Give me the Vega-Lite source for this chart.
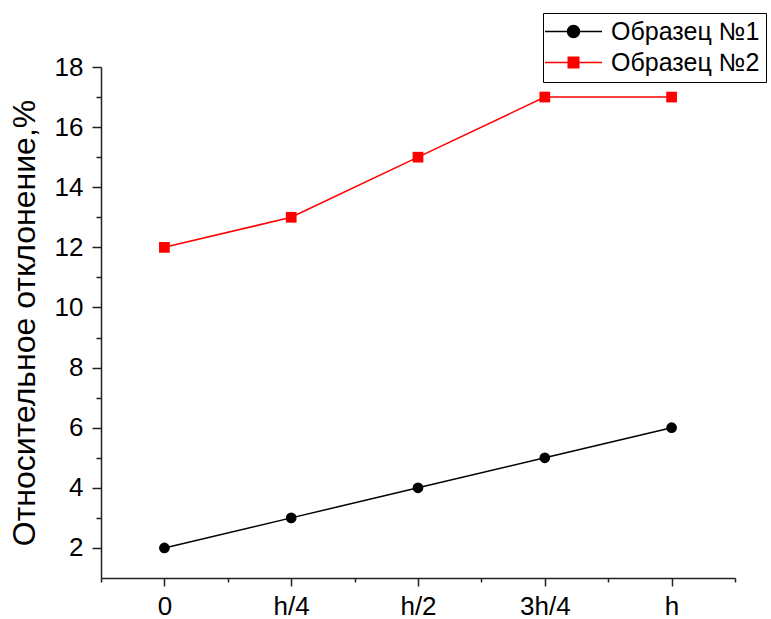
{
  "$schema": "https://vega.github.io/schema/vega-lite/v6.json",
  "width": 634,
  "height": 511,
  "autosize": "none",
  "padding": {"left": 101, "top": 67, "right": 36, "bottom": 41},
  "background": "white",
  "config": {
    "view": {"stroke": null},
    "font": "Liberation Sans"
  },
  "data": {
    "values": [
      {"pos": "0", "i": 0, "series": "Образец №1", "value": 2},
      {"pos": "h/4", "i": 1, "series": "Образец №1", "value": 3},
      {"pos": "h/2", "i": 2, "series": "Образец №1", "value": 4},
      {"pos": "3h/4", "i": 3, "series": "Образец №1", "value": 5},
      {"pos": "h", "i": 4, "series": "Образец №1", "value": 6},
      {"pos": "0", "i": 0, "series": "Образец №2", "value": 12},
      {"pos": "h/4", "i": 1, "series": "Образец №2", "value": 13},
      {"pos": "h/2", "i": 2, "series": "Образец №2", "value": 15},
      {"pos": "3h/4", "i": 3, "series": "Образец №2", "value": 17},
      {"pos": "h", "i": 4, "series": "Образец №2", "value": 17}
    ]
  },
  "layer": [
    {
      "mark": {"type": "line", "strokeWidth": 1.5},
      "encoding": {
        "x": {
          "field": "i", "type": "quantitative",
          "scale": {"domain": [-0.5, 4.5], "nice": false, "zero": false},
          "axis": {
            "orient": "bottom", "title": null, "values": [0, 1, 2, 3, 4],
            "labelExpr": "['0','h/4','h/2','3h/4','h'][datum.value]",
            "grid": false, "domainColor": "#222", "domainWidth": 1.5,
            "tickColor": "#222", "tickWidth": 1.5, "tickSize": 8,
            "labelFont": "Liberation Sans", "labelFontSize": 26, "labelColor": "#000",
            "labelPadding": 7, "labelFlush": false, "labelOverlap": false
          }
        },
        "y": {
          "field": "value", "type": "quantitative",
          "scale": {"domain": [1, 18], "nice": false, "zero": false},
          "axis": {
            "orient": "left", "title": "Относительное отклонение,%",
            "values": [2, 4, 6, 8, 10, 12, 14, 16, 18],
            "grid": false, "domainColor": "#222", "domainWidth": 1.5,
            "tickColor": "#222", "tickWidth": 1.5, "tickSize": 9,
            "labelFont": "Liberation Sans", "labelFontSize": 26, "labelColor": "#000",
            "labelPadding": 9, "labelFlush": false, "labelOverlap": false,
            "titleFont": "Liberation Sans", "titleFontSize": 32, "titleFontWeight": "normal",
            "titleColor": "#000", "titlePadding": 13
          }
        },
        "color": {
          "field": "series", "type": "nominal",
          "scale": {"domain": ["Образец №1", "Образец №2"], "range": ["#000000", "#ff0000"]},
          "legend": {
            "orient": "none", "legendX": 442, "legendY": -54, "title": null,
            "strokeColor": "#000", "padding": 6,
            "labelFont": "Liberation Sans", "labelFontSize": 25, "labelColor": "#000",
            "symbolSize": 144, "symbolStrokeWidth": 1.5, "symbolOffset": 12,
            "labelOffset": 25, "rowPadding": 5,
            "encode": {
              "symbols": {
                "update": {
                  "shape": {"signal": "datum.index === 0 ? 'M-4.75,0H4.75M-1,0A1,1 0 1,0 1,0A1,1 0 1,0 -1,0Z' : 'M-4.75,0H4.75M-0.875,-0.875H0.875V0.875H-0.875Z'"},
                  "fill": {"signal": "scale('color', datum.value)"},
                  "stroke": {"signal": "scale('color', datum.value)"},
                  "strokeWidth": {"value": 1.5},
                  "strokeOpacity": {"value": 1},
                  "opacity": {"value": 1}
                }
              }
            }
          }
        }
      }
    },
    {
      "transform": [{"filter": "datum.series === 'Образец №1'"}],
      "mark": {"type": "point", "shape": "circle", "filled": true, "size": 115, "opacity": 1, "color": "#000000"},
      "encoding": {
        "x": {
          "field": "i", "type": "quantitative",
          "axis": {
            "orient": "bottom", "title": null,
            "values": [-0.5, 0.5, 1.5, 2.5, 3.5, 4.5],
            "labels": false, "domain": false, "grid": false,
            "tickColor": "#222", "tickWidth": 1.5, "tickSize": 4
          }
        },
        "y": {
          "field": "value", "type": "quantitative",
          "axis": {
            "orient": "left", "title": null,
            "values": [3, 5, 7, 9, 11, 13, 15, 17],
            "labels": false, "domain": false, "grid": false,
            "tickColor": "#222", "tickWidth": 1.5, "tickSize": 5
          }
        }
      }
    },
    {
      "transform": [{"filter": "datum.series === 'Образец №2'"}],
      "mark": {"type": "point", "shape": "square", "filled": true, "size": 115, "opacity": 1, "color": "#ff0000"},
      "encoding": {
        "x": {"field": "i", "type": "quantitative", "axis": null},
        "y": {"field": "value", "type": "quantitative", "axis": null}
      }
    }
  ],
  "resolve": {"axis": {"x": "independent", "y": "independent"}}
}
